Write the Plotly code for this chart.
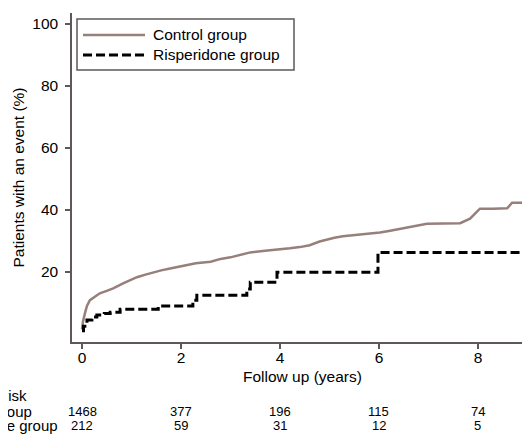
import plotly.graph_objects as go

# Kaplan-Meier style cumulative event curves (years, % with event)
control_t = [0, 0.02, 0.06, 0.1, 0.16, 0.25, 0.36, 0.5, 0.63, 0.83, 1.0, 1.11,
             1.3, 1.44, 1.6, 1.78, 2.0, 2.12, 2.3, 2.6, 2.8, 3.0, 3.2, 3.4,
             3.7, 4.0, 4.2, 4.4, 4.6, 4.8, 4.95, 5.1, 5.27, 5.5, 5.8, 6.02,
             6.2, 6.48, 6.7, 6.97, 7.3, 7.64, 7.84, 7.95, 8.04, 8.3, 8.59,
             8.69, 9.1]
control_y = [1.5, 4.0, 6.7, 9.0, 10.9, 12.0, 13.1, 13.9, 14.7, 16.3, 17.5, 18.3,
             19.2, 19.9, 20.5, 21.1, 21.8, 22.3, 22.8, 23.3, 24.2, 24.7, 25.5, 26.3,
             26.8, 27.2, 27.6, 28.0, 28.6, 29.8, 30.5, 31.0, 31.5, 31.8, 32.3, 32.7,
             33.2, 34.0, 34.8, 35.5, 35.6, 35.7, 37.2, 39.0, 40.4, 40.4, 40.5,
             42.3, 42.3]

risp_t = [0, 0.03, 0.1, 0.2, 0.3, 0.45, 0.57, 0.77, 1.54, 2.24, 2.32, 3.33,
          3.4, 3.94, 5.98, 9.1]
risp_y = [1.0, 2.5, 4.5, 5.5, 6.1, 6.6, 7.0, 8.0, 9.0, 10.9, 12.5, 14.5,
          16.7, 19.9, 26.3, 26.3]

# numbers at risk
risk_years = [0, 2, 4, 6, 8]
risk_control = [1468, 377, 196, 115, 74]
risk_risp = [212, 59, 31, 12, 5]

x_ticks = [0, 2, 4, 6, 8]
y_ticks = [20, 40, 60, 80, 100]

OFF = 8  # page body margin offsets the figure by 8px on every side
W, H = 530 - 2 * OFF, 443 - 2 * OFF
# plot area in page pixels: left 72, right 522, top 13, bottom 342
L, R, T, B = 72 - OFF, 0, 13 - OFF, H - (342 - OFF)
AXIS = '#5e5858'
CONTROL_COLOR = '#977f7a'
FONT = 'Liberation Sans, Arial, sans-serif'


def px(x):
    # page x pixel -> paper fraction
    return (x - OFF - L) / (W - L - R)


def py(y):
    # page y pixel -> paper fraction
    return (H - B - (y - OFF)) / (H - T - B)


fig = go.Figure()
fig.add_trace(go.Scatter(x=control_t, y=control_y, mode='lines',
                         line=dict(color=CONTROL_COLOR, width=2.5),
                         name='Control group'))
fig.add_trace(go.Scatter(x=risp_t, y=risp_y, mode='lines',
                         line=dict(color='black', width=3, shape='hv', dash='9px,4px'),
                         name='Risperidone group'))

# hand-drawn legend box (Stata style)
fig.add_shape(type='rect', xref='paper', yref='paper',
              x0=px(77), x1=px(294), y0=py(70), y1=py(19),
              line=dict(color=AXIS, width=1.5), fillcolor='white')
fig.add_shape(type='line', xref='paper', yref='paper',
              x0=px(83), x1=px(145), y0=py(35), y1=py(35),
              line=dict(color=CONTROL_COLOR, width=2.5))
fig.add_shape(type='line', xref='paper', yref='paper',
              x0=px(83), x1=px(145), y0=py(55), y1=py(55),
              line=dict(color='black', width=3, dash='9px,4px'))
for label, yy in [('Control group', 35), ('Risperidone group', 55)]:
    fig.add_annotation(text=label, xref='paper', yref='paper', x=px(151), y=py(yy),
                       xanchor='left', yanchor='middle', showarrow=False,
                       font=dict(size=15.5, color='black'))

# axis title for x
fig.add_annotation(text='Follow up (years)', xref='paper', yref='paper',
                   x=px(302), y=py(376), xanchor='center', yanchor='middle',
                   showarrow=False, font=dict(size=15.5, color='black'))

# number at risk table
for label, yy, xr in [('Number at risk', 395, 29), ('Control group', 411, 34),
                      ('Risperidone group', 425, 60)]:
    fig.add_annotation(text=label, xref='paper', yref='paper', x=px(xr), y=py(yy),
                       xanchor='right', yanchor='middle', showarrow=False,
                       font=dict(size=15, color='black'))
for yr, c, r in zip(risk_years, risk_control, risk_risp):
    fig.add_annotation(text=str(c), xref='x', yref='paper', x=yr, y=py(411),
                       xanchor='center', yanchor='middle', showarrow=False,
                       font=dict(size=13, color='black'))
    fig.add_annotation(text=str(r), xref='x', yref='paper', x=yr, y=py(425),
                       xanchor='center', yanchor='middle', showarrow=False,
                       font=dict(size=13, color='black'))

fig.update_layout(
    width=W, height=H,
    margin=dict(l=L, r=R, t=T, b=B, autoexpand=False),
    paper_bgcolor='white', plot_bgcolor='white',
    showlegend=False,
    font=dict(family=FONT, size=15, color='black'),
    xaxis=dict(range=[-0.202, 8.89], tickvals=x_ticks, showgrid=False, zeroline=False,
               showline=True, linecolor=AXIS, linewidth=1.5, automargin=False,
               ticks='outside', ticklen=5, tickcolor=AXIS, tickwidth=1.5,
               ticklabelstandoff=-4, tickfont=dict(size=15.5)),
    yaxis=dict(range=[-2.6, 103.5], tickvals=y_ticks, showgrid=False, zeroline=False,
               showline=True, linecolor=AXIS, linewidth=1.5, automargin=False,
               ticks='outside', ticklen=5, tickcolor=AXIS, tickwidth=1.5,
               ticklabelstandoff=4, tickfont=dict(size=15.5),
               title=dict(text='Patients with an event (%)', font=dict(size=15.5), standoff=4)),
)

fig.write_html('out.html')
